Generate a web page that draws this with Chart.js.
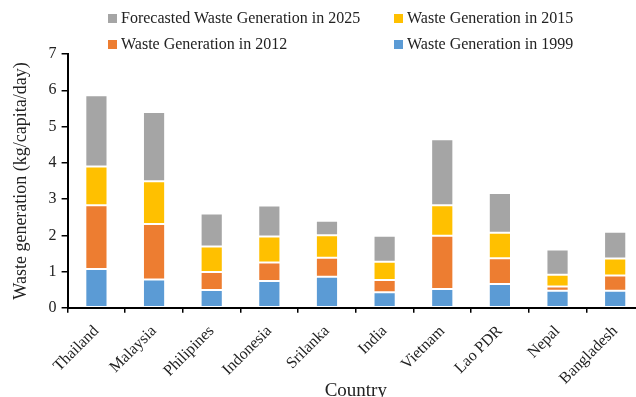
<!DOCTYPE html>
<html>
<head>
<meta charset="utf-8">
<script src="https://cdn.jsdelivr.net/npm/chart.js@4"></script>
<style>
    html, body { margin: 0; padding: 0; background: #fff; overflow: hidden; }
    #wrap { position: relative; width: 644px; height: 397px; }
    #legend {
        position: absolute; left: 108px; top: 8px;
        display: grid; grid-template-columns: 286px 240px; row-gap: 6px;
        font-family: "Liberation Serif", "Times New Roman", serif; font-size: 16px; color: #222;
    }
    .item { display: flex; align-items: center; height: 20px; white-space: nowrap; }
    .box { width: 9px; height: 9px; margin-right: 4px; }
</style>
</head>
<body>
<div id="wrap">
    <canvas id="chart"></canvas>
    <div id="legend"></div>
</div>
<script>
const countries = ['Thailand', 'Malaysia', 'Philipines', 'Indonesia', 'Srilanka', 'India', 'Vietnam', 'Lao PDR', 'Nepal', 'Bangladesh'];
const waste1999 = [1.07, 0.78, 0.49, 0.74, 0.86, 0.43, 0.52, 0.66, 0.47, 0.47];
const waste2012 = [1.76, 1.53, 0.50, 0.51, 0.52, 0.34, 1.47, 0.71, 0.12, 0.42];
const waste2015 = [1.07, 1.18, 0.70, 0.72, 0.62, 0.50, 0.84, 0.70, 0.32, 0.47];
const waste2025 = [1.96, 1.91, 0.91, 0.85, 0.40, 0.72, 1.82, 1.10, 0.70, 0.74];
const yTicks = [0, 1, 2, 3, 4, 5, 6, 7];

const serif = '"Liberation Serif", "Times New Roman", serif';

const datasets = [
    { label: 'Waste Generation in 1999', data: waste1999, backgroundColor: '#5B9BD5' },
    { label: 'Waste Generation in 2012', data: waste2012, backgroundColor: '#ED7D31' },
    { label: 'Waste Generation in 2015', data: waste2015, backgroundColor: '#FFC000' },
    { label: 'Forecasted Waste Generation in 2025', data: waste2025, backgroundColor: '#A5A5A5' }
].map(ds => Object.assign(ds, {
    borderColor: 'rgba(255, 255, 255, 0.8)',
    borderWidth: 1,
    borderSkipped: false,
    categoryPercentage: 1,
    barPercentage: 0.385
}));

const chart = new Chart(document.getElementById('chart'), {
    type: 'bar',
    data: { labels: countries, datasets: datasets },
    options: {
        responsive: true,
        maintainAspectRatio: false,
        animation: false,
        layout: { padding: { top: 54, left: 10, right: 0, bottom: -5 } },
        plugins: { legend: { display: false }, tooltip: { enabled: false } },
        scales: {
            x: {
                stacked: true,
                grid: { display: true, drawOnChartArea: false, drawTicks: true, tickLength: 5, color: '#000', lineWidth: 1.5 },
                border: { color: '#000', width: 2 },
                ticks: { color: '#222', font: { family: serif, size: 16 }, minRotation: 45, maxRotation: 45, padding: 9 },
                title: { display: true, text: 'Country', color: '#222', font: { family: serif, size: 19 }, padding: { top: -18, bottom: 0 } }
            },
            y: {
                stacked: true,
                min: yTicks[0],
                max: yTicks[yTicks.length - 1],
                afterBuildTicks: axis => { axis.ticks = yTicks.map(v => ({ value: v })); },
                grid: { display: true, drawOnChartArea: false, drawTicks: true, tickLength: 6, color: '#000', lineWidth: 1.5 },
                border: { color: '#000', width: 2 },
                ticks: { color: '#222', font: { family: serif, size: 16 }, padding: 5 },
                title: { display: true, text: 'Waste generation (kg/capita/day)', color: '#222', font: { family: serif, size: 18 }, padding: { top: 0, bottom: 12 } }
            }
        }
    }
});

// legend laid out like the original: two columns, newest series first
const legend = document.getElementById('legend');
datasets.slice().reverse().forEach(ds => {
    const item = document.createElement('div');
    item.className = 'item';
    item.innerHTML = '<span class="box" style="background:' + ds.backgroundColor + '"></span><span></span>';
    item.lastChild.textContent = ds.label;
    legend.appendChild(item);
});
</script>
</body>
</html>
